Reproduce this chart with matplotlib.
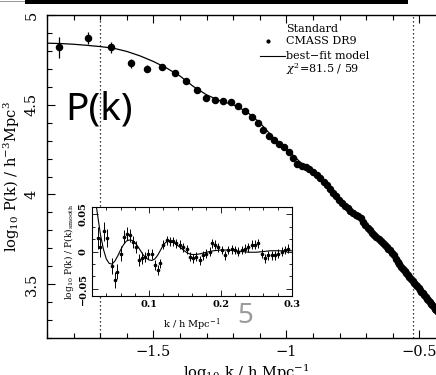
import numpy as np
import matplotlib
matplotlib.use("Agg")
import matplotlib.pyplot as plt
from matplotlib.patches import Rectangle
from matplotlib.ticker import MultipleLocator, AutoMinorLocator, FuncFormatter

plt.rcParams['font.family'] = ['DejaVu Serif']
plt.rcParams['mathtext.fontset'] = 'dejavuserif'

## Main panel: CMASS DR9 band powers (k in h/Mpc, log10 P(k))
k_data = [0.014, 0.018, 0.022, 0.026, 0.030, 0.034, 0.038, 0.042, 0.046, 0.050,
          0.054, 0.058, 0.062, 0.066, 0.070, 0.074, 0.078, 0.082, 0.086, 0.090,
          0.094, 0.098, 0.102, 0.106, 0.110, 0.114, 0.118, 0.122, 0.126, 0.130,
          0.134, 0.138, 0.142, 0.146, 0.150, 0.154, 0.158, 0.162, 0.166, 0.170,
          0.174, 0.178, 0.182, 0.186, 0.190, 0.194, 0.198, 0.202, 0.206, 0.210,
          0.214, 0.218, 0.222, 0.226, 0.230, 0.234, 0.238, 0.242, 0.246, 0.250,
          0.254, 0.258, 0.262, 0.266, 0.270, 0.274, 0.278, 0.282, 0.286, 0.290,
          0.294, 0.298, 0.302, 0.306, 0.310, 0.314, 0.318, 0.322, 0.326, 0.330,
          0.334, 0.338, 0.342, 0.346, 0.350, 0.354, 0.358, 0.362, 0.366, 0.370]
logP_data = [4.820, 4.872, 4.820, 4.730, 4.700, 4.710, 4.674, 4.633, 4.583, 4.537,
             4.524, 4.518, 4.515, 4.491, 4.463, 4.429, 4.398, 4.361, 4.324, 4.302,
             4.283, 4.263, 4.237, 4.202, 4.171, 4.161, 4.154, 4.143, 4.125, 4.109,
             4.094, 4.072, 4.050, 4.029, 4.009, 3.990, 3.970, 3.953, 3.938, 3.922,
             3.908, 3.896, 3.885, 3.880, 3.870, 3.847, 3.831, 3.815, 3.800, 3.787,
             3.775, 3.763, 3.751, 3.740, 3.729, 3.717, 3.706, 3.696, 3.688, 3.674,
             3.660, 3.640, 3.622, 3.610, 3.597, 3.586, 3.574, 3.563, 3.551, 3.540,
             3.529, 3.518, 3.507, 3.497, 3.487, 3.478, 3.468, 3.458, 3.449, 3.440,
             3.429, 3.419, 3.410, 3.400, 3.391, 3.382, 3.372, 3.363, 3.354, 3.345]
logP_err = [0.060, 0.035, 0.030, 0.025, 0.020, 0.015, 0.012, 0.010, 0.008, 0.007,
            0.006, 0.006, 0.005, 0.005, 0.005, 0.004, 0.004, 0.004, 0.004, 0.004] + [0.003] * 70

model_logk = [-1.95, -1.90, -1.85, -1.80, -1.75, -1.70, -1.65, -1.60, -1.55, -1.50,
              -1.45, -1.40, -1.35, -1.30, -1.25, -1.20, -1.15, -1.10, -1.05, -1.00,
              -0.95, -0.90, -0.85, -0.80, -0.75, -0.70, -0.65, -0.60, -0.55, -0.50,
              -0.45, -0.40]
model_logP = [4.843, 4.843, 4.841, 4.837, 4.831, 4.824, 4.815, 4.797, 4.772, 4.741,
              4.704, 4.660, 4.602, 4.555, 4.522, 4.500, 4.462, 4.400, 4.318, 4.253,
              4.183, 4.125, 4.052, 3.968, 3.898, 3.827, 3.745, 3.668, 3.563, 3.472,
              3.380, 3.285]

k_fit_range = [0.02, 0.3]

## Inset: BAO ratio log10 P(k)/P(k)_smooth
k_bao = [0.028, 0.031, 0.037, 0.0405, 0.0476, 0.052, 0.0555, 0.0606, 0.0648, 0.069,
         0.0732, 0.077, 0.081, 0.0858, 0.0896, 0.094, 0.0989, 0.1036, 0.108, 0.112,
         0.115, 0.120, 0.1245, 0.129, 0.134, 0.138, 0.143, 0.148, 0.153, 0.157,
         0.162, 0.166, 0.171, 0.176, 0.180, 0.185, 0.188, 0.192, 0.197, 0.202,
         0.206, 0.211, 0.216, 0.220, 0.225, 0.230, 0.234, 0.239, 0.244, 0.248,
         0.253, 0.258, 0.262, 0.267, 0.272, 0.276, 0.281, 0.286, 0.290, 0.295]
ratio_bao = [0.018, 0.006, 0.027, 0.018, -0.020, -0.038, -0.027, -0.003, 0.020, 0.024,
             0.022, 0.013, 0.006, -0.011, -0.009, -0.007, -0.003, -0.003, -0.018, -0.025,
             -0.016, 0.009, 0.015, 0.014, 0.014, 0.011, 0.009, 0.006, 0.003, -0.007,
             -0.009, -0.007, -0.012, -0.005, -0.003, 0.000, 0.011, 0.009, 0.006, 0.002,
             -0.005, 0.002, 0.003, 0.002, 0.000, 0.002, 0.004, 0.006, 0.009, 0.009,
             0.011, -0.003, -0.009, -0.005, -0.005, -0.005, -0.003, 0.000, 0.002, 0.004]
ratio_err = [0.015, 0.014, 0.013, 0.012, 0.011, 0.011, 0.010, 0.010, 0.009, 0.009,
             0.009, 0.008, 0.008, 0.008, 0.008, 0.007, 0.007, 0.007, 0.007, 0.007] + [0.006] * 40

k_bao_model = [0.020, 0.024, 0.028, 0.032, 0.036, 0.040, 0.044, 0.048, 0.052, 0.056,
               0.060, 0.064, 0.068, 0.072, 0.076, 0.080, 0.084, 0.088, 0.092, 0.096,
               0.100, 0.104, 0.108, 0.112, 0.116, 0.120, 0.124, 0.128, 0.132, 0.136,
               0.140, 0.144, 0.148, 0.152, 0.156, 0.160, 0.166, 0.172, 0.180, 0.190,
               0.200, 0.210, 0.220, 0.230, 0.240, 0.250, 0.260, 0.270, 0.280, 0.290, 0.300]
ratio_model = [0.100, 0.075, 0.048, 0.022, 0.003, -0.010, -0.016, -0.017, -0.013, -0.006,
               0.002, 0.009, 0.014, 0.0155, 0.015, 0.012, 0.007, 0.001, -0.005, -0.009,
               -0.0115, -0.012, -0.010, -0.005, 0.002, 0.009, 0.013, 0.014, 0.013, 0.011,
               0.008, 0.005, 0.002, -0.001, -0.003, -0.004, -0.004, -0.003, -0.001, 0.001,
               0.002, 0.002, 0.001, 0.000, -0.001, -0.001, 0.000, 0.001, 0.001, 0.001, 0.001]

W, H = 436, 375
fig = plt.figure(figsize=(W / 100, H / 100), dpi=100)

def px_box(x0, y0, x1, y1):
    return [x0 / W, 1 - y1 / H, (x1 - x0) / W, (y1 - y0) / H]

def short_fmt(v, pos):
    s = ('%g' % v)
    return s.replace('-', '\u2212')

ax = fig.add_axes(px_box(47, 15, 446, 338))
ax.errorbar(np.log10(k_data), logP_data, yerr=logP_err, fmt='o', color='black',
            ms=4.4, elinewidth=0.9, capsize=0, zorder=3)
ax.plot(model_logk, model_logP, color='black', lw=0.9, zorder=2)
for kk in k_fit_range:
    ax.axvline(np.log10(kk), color='black', ls=(0, (1, 2.2)), lw=0.9, zorder=1)

ax.set_xlim(-1.9, -0.4)
ax.set_ylim(3.2, 5.0)
ax.xaxis.set_major_locator(MultipleLocator(0.5))
ax.xaxis.set_minor_locator(MultipleLocator(0.1))
ax.yaxis.set_major_locator(MultipleLocator(0.5))
ax.yaxis.set_minor_locator(MultipleLocator(0.1))
ax.xaxis.set_major_formatter(FuncFormatter(short_fmt))
ax.yaxis.set_major_formatter(FuncFormatter(short_fmt))
ax.tick_params(which='both', direction='in', top=True, right=True, labelsize=10.5, width=0.8)
ax.tick_params(which='major', length=6)
ax.tick_params(which='minor', length=3.5)
ax.tick_params(axis='x', pad=5)
ax.tick_params(axis='y', pad=6)
for lab in ax.get_yticklabels():
    lab.set_rotation(90)
    lab.set_va('center')
for sp in ax.spines.values():
    sp.set_linewidth(1.0)
ax.set_xlabel(r'log$_{10}$ k / h Mpc$^{-1}$', fontsize=10.5)
ax.xaxis.set_label_coords(0.5, -0.076)
ax.set_ylabel(r'log$_{10}$ P(k) / h$^{-3}$Mpc$^{3}$', fontsize=10.5)
ax.yaxis.set_label_coords(-0.062, 0.5)

# legend block
fs_leg = 8
ax.text(0.599, 0.957, 'Standard', transform=ax.transAxes, fontsize=fs_leg, va='center', ha='left')
ax.plot([0.554], [0.921], 'o', color='black', ms=2.0, transform=ax.transAxes)
ax.text(0.599, 0.921, 'CMASS DR9', transform=ax.transAxes, fontsize=fs_leg, va='center', ha='left')
ax.plot([0.534, 0.596], [0.872, 0.872], color='black', lw=0.8, transform=ax.transAxes)
ax.text(0.599, 0.872, 'best\u2212fit model', transform=ax.transAxes, fontsize=fs_leg, va='center', ha='left')
ax.text(0.599, 0.834, r'$\chi^{2}$=81.5 / 59', transform=ax.transAxes, fontsize=fs_leg, va='center', ha='left')

# slide annotations
fig.text(99 / W, 1 - 109 / H, 'P(k)', fontsize=28, family='Noto Sans', ha='center', va='center')
fig.text(245 / W, 1 - 316 / H, '5', fontsize=20, family='Noto Sans', color='#9a9a9a',
         ha='center', va='center')

# inset
axi = fig.add_axes(px_box(92, 207, 292, 296))
axi.errorbar(k_bao, ratio_bao, yerr=ratio_err, fmt='o', color='black', ms=1.6,
             elinewidth=0.7, capsize=0, zorder=3)
axi.plot(k_bao_model, ratio_model, color='black', lw=0.8, zorder=2)
axi.set_xlim(0.02, 0.30)
axi.set_ylim(-0.06, 0.06)
axi.xaxis.set_major_locator(MultipleLocator(0.1))
axi.xaxis.set_minor_locator(MultipleLocator(0.02))
axi.yaxis.set_major_locator(MultipleLocator(0.05))
axi.yaxis.set_minor_locator(AutoMinorLocator(3))
axi.xaxis.set_major_formatter(FuncFormatter(short_fmt))
axi.yaxis.set_major_formatter(FuncFormatter(short_fmt))
axi.tick_params(which='both', direction='in', top=True, right=True, labelsize=7, width=0.6, pad=3)
axi.tick_params(which='major', length=4)
axi.tick_params(which='minor', length=2.2)
for lab in axi.get_yticklabels() + axi.get_xticklabels():
    lab.set_fontweight('bold')
for lab in axi.get_yticklabels():
    lab.set_rotation(90)
    lab.set_va('center')
for sp in axi.spines.values():
    sp.set_linewidth(0.8)
axi.set_xlabel(r'k / h Mpc$^{-1}$', fontsize=7, labelpad=5)
axi.set_ylabel(r'log$_{10}$ P(k) / P(k)$_{\rm smooth}$', fontsize=6.5, labelpad=2)

# page decoration at top
fig.add_artist(Rectangle((25 / W, 1 - 3.5 / H), (408 - 25) / W, 3.5 / H,
                         transform=fig.transFigure, color='black', lw=0))
fig.add_artist(Rectangle((0, 1 - 2 / H), 25 / W, 1.2 / H,
                         transform=fig.transFigure, color='#999999', lw=0))

fig.savefig('out.png', dpi=100)
